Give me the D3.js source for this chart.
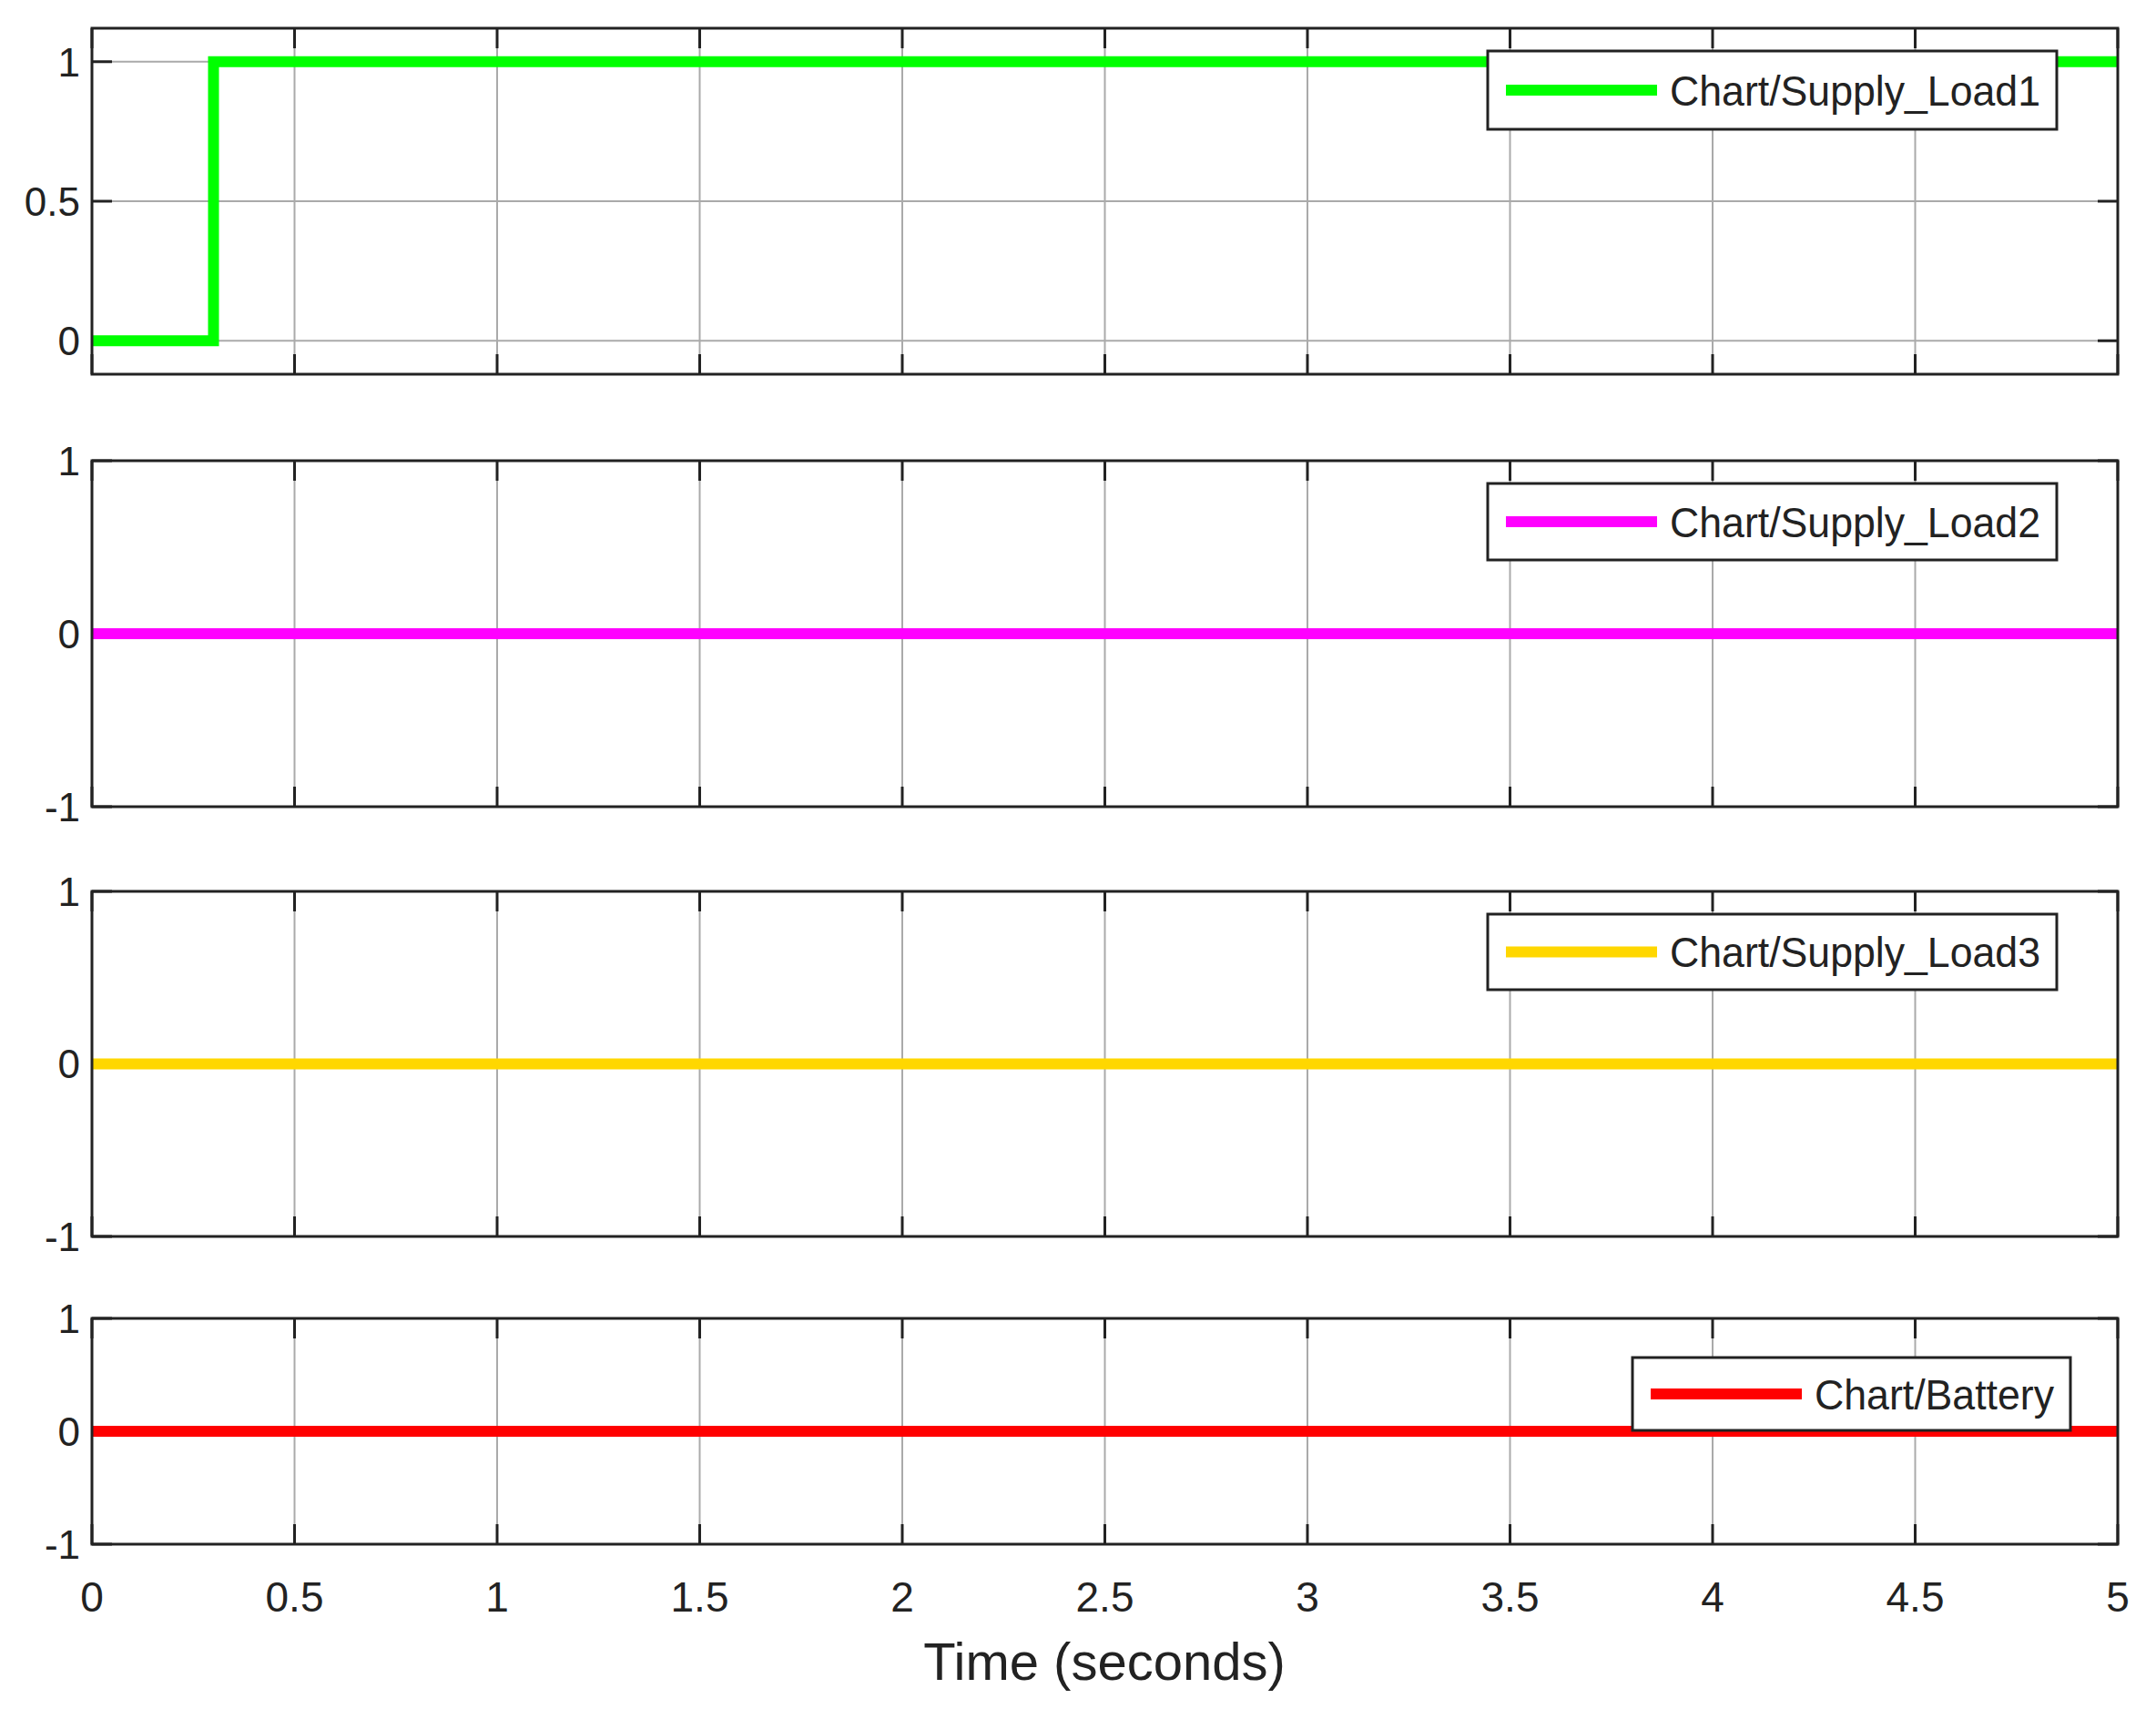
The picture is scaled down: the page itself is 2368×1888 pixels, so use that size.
<!DOCTYPE html>
<html><head><meta charset="utf-8">
<script src="https://cdn.jsdelivr.net/npm/d3@7"></script>
<style>body{margin:0;background:#fff}</style></head>
<body><svg id="c" width="2368" height="1888"></svg>
<script>
const xTicks=[0,0.5,1,1.5,2,2.5,3,3.5,4,4.5,5];
const xTickLabels=["0","0.5","1","1.5","2","2.5","3","3.5","4","4.5","5"];
const seriesNames=["Chart/Supply_Load1","Chart/Supply_Load2","Chart/Supply_Load3","Chart/Battery"];
const seriesColors=["#00ff00","#ff00ff","#ffd700","#ff0000"];
const load1=[[0,0],[0.3,0],[0.3,1],[5,1]];
const load2=[[0,0],[5,0]];
const load3=[[0,0],[5,0]];
const battery=[[0,0],[5,0]];
const seriesData=[load1,load2,load3,battery];
const yTicks=[[0,0.5,1],[-1,0,1],[-1,0,1],[-1,0,1]];
const yTickLabels=[["0","0.5","1"],["-1","0","1"],["-1","0","1"],["-1","0","1"]];
const yDomains=[[-0.12,1.12],[-1,1],[-1,1],[-1,1]];
const xLabel="Time (seconds)";

const svg=d3.select("#c");
const L=101,R=2326;
const panels=[{t:31,b:411,leg:[1634,56,2259,142]},{t:506,b:886,leg:[1634,531,2259,615]},{t:979,b:1358,leg:[1634,1004,2259,1087]},{t:1448,b:1696,leg:[1793,1491,2274,1571]}];
const x=d3.scaleLinear().domain([0,5]).range([L,R]);
const font="'Liberation Sans', Arial, sans-serif";
panels.forEach((p,i)=>{
  const y=d3.scaleLinear().domain(yDomains[i]).range([p.b,p.t]);
  const g=svg.append("g");
  // grid
  g.selectAll(".gx").data(xTicks.slice(1,-1)).enter().append("line")
   .attr("x1",d=>x(d)).attr("x2",d=>x(d)).attr("y1",p.t).attr("y2",p.b).attr("stroke","#aaa").attr("stroke-width",2);
  g.selectAll(".gy").data(yTicks[i]).enter().append("line")
   .attr("x1",L).attr("x2",R).attr("y1",d=>y(d)).attr("y2",d=>y(d)).attr("stroke","#aaa").attr("stroke-width",2);
  // ticks
  xTicks.forEach(d=>{
    g.append("line").attr("x1",x(d)).attr("x2",x(d)).attr("y1",p.t).attr("y2",p.t+22).attr("stroke","#222").attr("stroke-width",3);
    g.append("line").attr("x1",x(d)).attr("x2",x(d)).attr("y1",p.b).attr("y2",p.b-22).attr("stroke","#222").attr("stroke-width",3);
  });
  yTicks[i].forEach(d=>{
    g.append("line").attr("x1",L).attr("x2",L+22).attr("y1",y(d)).attr("y2",y(d)).attr("stroke","#222").attr("stroke-width",3);
    g.append("line").attr("x1",R).attr("x2",R-22).attr("y1",y(d)).attr("y2",y(d)).attr("stroke","#222").attr("stroke-width",3);
  });
  // line
  g.append("path").datum(seriesData[i]).attr("fill","none").attr("stroke",seriesColors[i]).attr("stroke-width",12)
   .attr("d",d3.line().x(d=>x(d[0])).y(d=>y(d[1])));
  g.append("rect").attr("x",L).attr("y",p.t).attr("width",R-L).attr("height",p.b-p.t).attr("fill","none").attr("stroke","#222").attr("stroke-width",3);
  // y labels
  yTicks[i].forEach((d,k)=>{
    g.append("text").attr("x",88).attr("y",y(d)).attr("dy","0.36em").attr("text-anchor","end")
     .attr("font-family",font).attr("font-size",44).attr("fill","#222").text(yTickLabels[i][k]);
  });
  // legend
  const [lx1,ly1,lx2,ly2]=p.leg;
  g.append("rect").attr("x",lx1).attr("y",ly1).attr("width",lx2-lx1).attr("height",ly2-ly1).attr("fill","#fff").attr("stroke","#222").attr("stroke-width",3);
  const cy=(ly1+ly2)/2;
  g.append("line").attr("x1",lx1+20).attr("x2",lx1+186).attr("y1",cy).attr("y2",cy).attr("stroke",seriesColors[i]).attr("stroke-width",12);
  g.append("text").attr("x",lx1+200).attr("y",cy).attr("dy","0.36em").attr("font-family",font).attr("font-size",46).attr("fill","#222")
   .attr("textLength",lx2-lx1-218).attr("lengthAdjust","spacingAndGlyphs").text(seriesNames[i]);
});
xTicks.forEach((d,k)=>{
  svg.append("text").attr("x",x(d)).attr("y",1770).attr("text-anchor","middle").attr("font-family",font).attr("font-size",46).attr("fill","#222").text(xTickLabels[k]);
});
svg.append("text").attr("x",1213).attr("y",1845).attr("text-anchor","middle").attr("font-family",font).attr("font-size",58).attr("fill","#222").text(xLabel);
</script></body></html>
